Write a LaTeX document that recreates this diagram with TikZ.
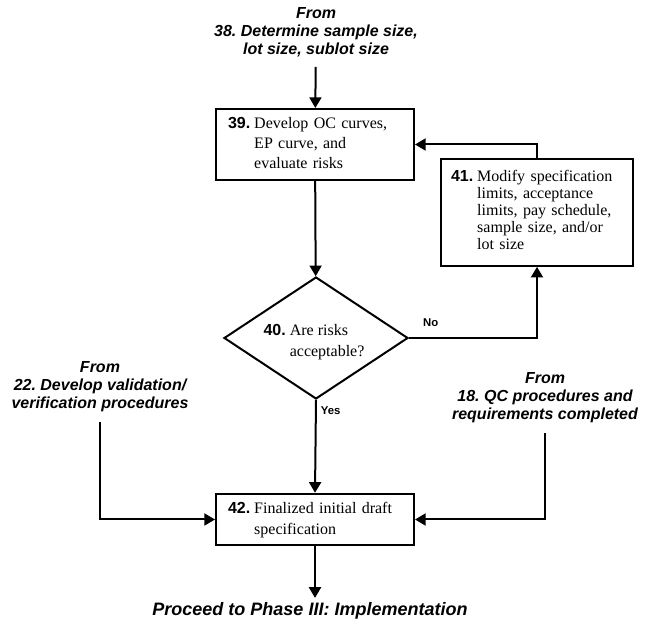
\documentclass[tikz,border=0pt]{standalone}
\usepackage{fontspec}
\setmainfont{Liberation Serif}
\newfontfamily\arial{Liberation Sans}
\usetikzlibrary{positioning,arrows.meta,shapes.geometric}
\frenchspacing
\tikzset{
  box/.style  ={draw, line width=1.5pt, align=left, inner xsep=9pt,
                font=\fontsize{12}{14.5}\selectfont},
  boxtxt/.style={align=left, inner sep=0pt, font=\fontsize{12}{14.5}\selectfont},
  dec/.style  ={draw, diamond, line width=1.5pt, inner sep=0pt,
                minimum width=138pt, minimum height=91.5pt},
  src/.style  ={align=center, font=\arial\bfseries\itshape\fontsize{12}{13.5}\selectfont},
  lbl/.style  ={font=\arial\bfseries\fontsize{8.5}{10}\selectfont, inner sep=1pt},
  fl/.style   ={-{Triangle[length=8pt,width=9pt]}, line width=1.5pt},
}
\newcommand{\stepno}[1]{{\arial\bfseries #1}}

\begin{document}
\begin{tikzpicture}[x=0.75pt, y=-0.75pt]
  \useasboundingbox (0,0) rectangle (650,634);

  % --- sources --------------------------------------------------------
  \node[src] (from38) at (316,32)
        {From\\38. Determine sample size,\\lot size, sublot size};
  \node[src] (from22) at (100,387)
        {From\\22. Develop validation/\\verification procedures};
  \node[src] (from18) at (545,398)
        {From\\18. QC procedures and\\requirements completed};

  % --- steps ----------------------------------------------------------
  \node[box, text width=130.5pt, minimum height=53.25pt] (s39) at (315,144.5)
        {\renewcommand{\arraystretch}{1.03}%
         \begin{tabular}{@{}l@{\hspace{3pt}}l@{}}
         \stepno{39.} & Develop OC curves,\\
                      & EP curve, and\\
                      & evaluate risks
         \end{tabular}};
  \node[dec] (d40) at (316,338) {};
  \node[boxtxt] (t40) at (314,342)
        {\renewcommand{\arraystretch}{1.05}%
         \begin{tabular}{@{}l@{\hspace{3pt}}l@{}}
         \stepno{40.} & Are risks\\
                      & acceptable?
         \end{tabular}};
  \node[box, inner xsep=7.5pt, text width=129pt, minimum height=80pt] (s41) at (537,212.5)
        {\renewcommand{\arraystretch}{0.88}%
         \begin{tabular}{@{}l@{\hspace{3pt}}l@{}}
         \stepno{41.} & Modify specification\\
                      & limits, acceptance\\
                      & limits, pay schedule,\\
                      & sample size, and/or\\
                      & lot size
         \end{tabular}};
  \node[box, text width=130.5pt, minimum height=38.25pt] (s42) at (315,519.5)
        {\renewcommand{\arraystretch}{1.1}%
         \begin{tabular}{@{}l@{\hspace{3pt}}l@{}}
         \stepno{42.} & Finalized initial draft\\
                      & specification
         \end{tabular}};
  \node[font=\arial\bfseries\itshape\fontsize{13.5}{16}\selectfont] (phase3) at (310,611)
        {Proceed to Phase III: Implementation};

  % --- arrows ---------------------------------------------------------
  \draw[fl, shorten <=4pt] (from38) -- (s39);
  \draw[fl] (s39) -- (d40);
  \draw[fl] (d40.east) -| node[lbl, pos=.085, above=7pt] {No} (s41.south);
  \draw[fl] (s41.north) |- (s39.east);
  \draw[fl] (d40.south) -- node[lbl, pos=.11, right=2pt] {Yes} (s42.north);
  \draw[fl, shorten <=4pt] (from22) |- (s42.west);
  \draw[fl, shorten <=4pt] (from18) |- (s42.east);
  \draw[fl] (s42.south) -- (s42.south |- phase3.north);
\end{tikzpicture}
\end{document}
